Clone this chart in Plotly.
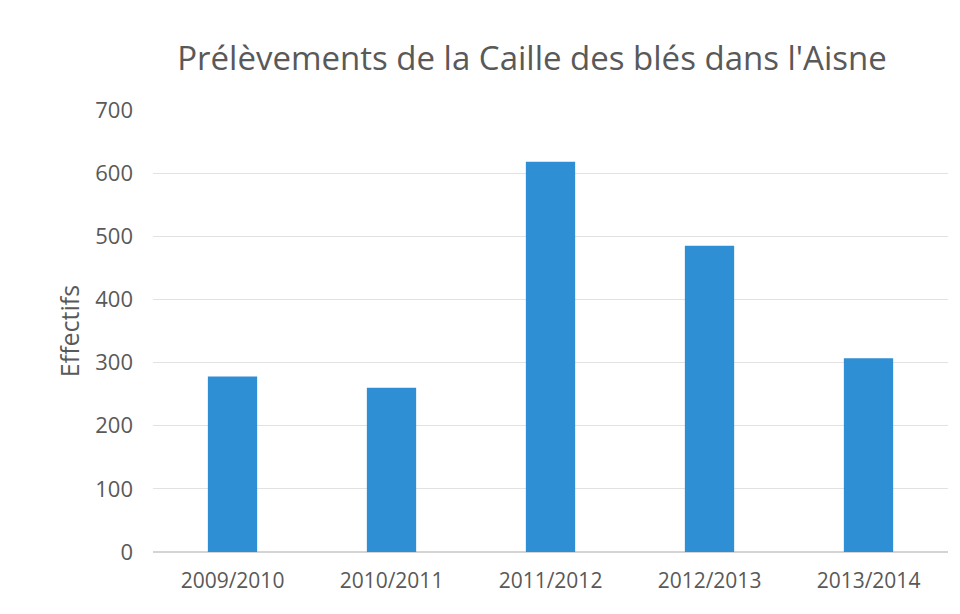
import plotly.graph_objects as go

seasons = ["2009/2010", "2010/2011", "2011/2012", "2012/2013", "2013/2014"]
effectifs = [278, 260, 618, 485, 307]
y_ticks = [0, 100, 200, 300, 400, 500, 600, 700]

fig = go.Figure(
    go.Bar(x=seasons, y=effectifs, marker=dict(color="#2F8FD5", line=dict(width=0)), width=0.31)
)

# the page body has an 8px default margin, so offsets below are compensated
fig.update_layout(
    width=960, height=614,
    paper_bgcolor="white", plot_bgcolor="white",
    margin=dict(l=145, r=20, t=102, b=70),
    font=dict(family="Open Sans, Liberation Sans, sans-serif", color="#595959"),
    title=dict(text="Prélèvements de la Caille des blés dans l'Aisne",
               x=524/960, xanchor="center", xref="container",
               y=1-50/614, yanchor="middle", yref="container",
               font=dict(size=33, color="#595959")),
    showlegend=False,
)
fig.update_yaxes(range=[0, 700], tickvals=y_ticks, showgrid=True, gridcolor="#E2E2E2",
                 zeroline=True, zerolinecolor="#D4D4D4", ticks="", ticklabelstandoff=19,
                 automargin=False,
                 tickfont=dict(size=22), title=dict(text="Effectifs", font=dict(size=25), standoff=8))
fig.update_xaxes(showgrid=False, tickfont=dict(size=21), ticks="", ticklabelstandoff=14,
                 showline=False, automargin=False)

fig.write_html("out.html")
